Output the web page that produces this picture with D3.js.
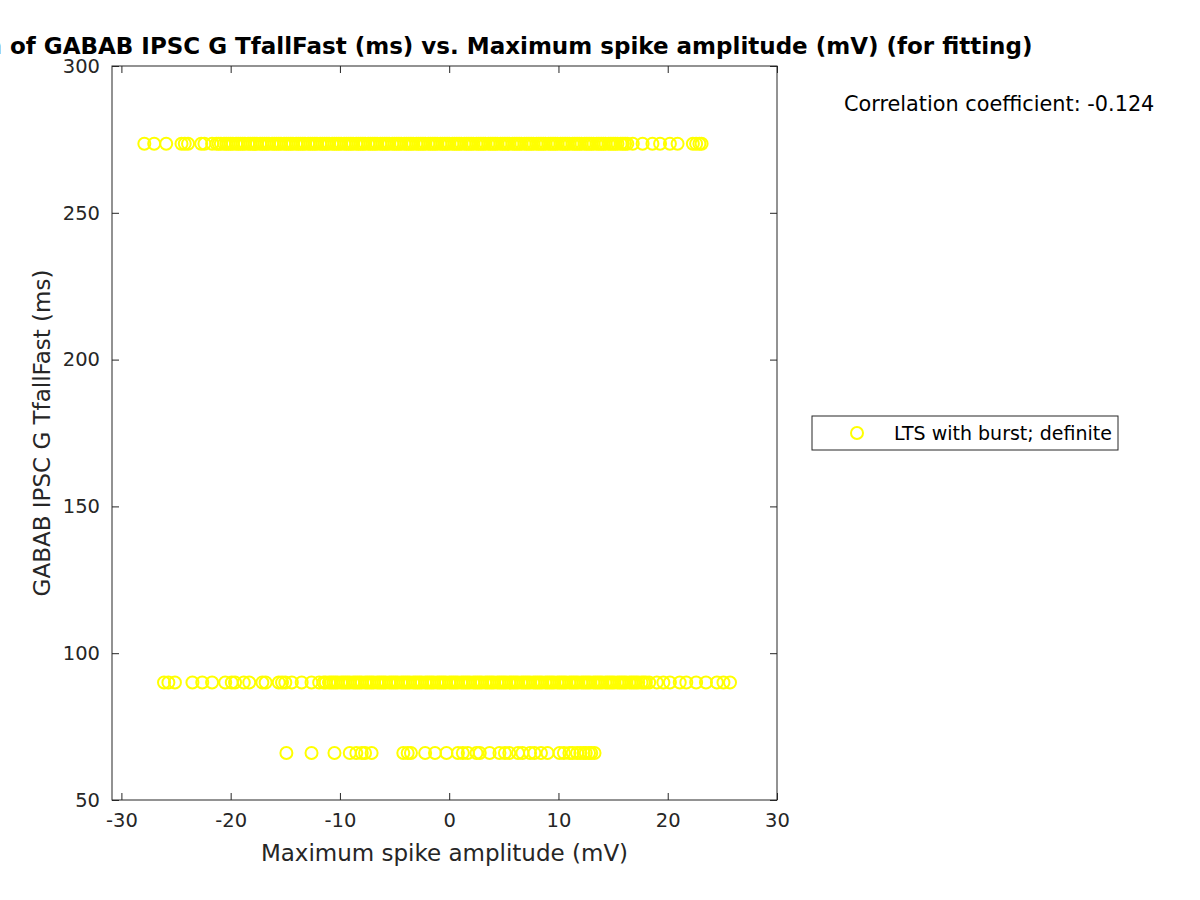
<!DOCTYPE html>
<html>
<head>
<meta charset="utf-8">
<script src="https://cdn.jsdelivr.net/npm/d3@7"></script>
<style>
  body { margin: 0; background: #fff; }
  svg { font-family: "DejaVu Sans", sans-serif; }
</style>
</head>
<body>
<div class="chart"></div>
<script>
// scatter: GABAB IPSC G TfallFast vs max spike amplitude

var svgWidth = 1200;
var svgHeight = 900;

var margin = { top: 66, right: 423, bottom: 100, left: 112 };
var width = svgWidth - margin.left - margin.right;
var height = svgHeight - margin.top - margin.bottom;

// tfallFast levels (ms)
var levelHigh = 273.5;
var levelMid = 90;
var levelLow = 66;

// max spike amplitude (mV) at each level
var ampsHigh = [-27.9, -27.0, -25.9, -24.5, -24.2, -23.9, -22.7, -22.4, -21.7,
  -21.3, -21.1, -20.9, -20.6, -20.4, -20.2, -20.0, -19.8, -19.5, -19.3, -19.1, -18.9,
  -18.7, -18.4, -18.2, -18.0, -17.8, -17.6, -17.3, -17.1, -16.9, -16.7, -16.5, -16.2,
  -16.0, -15.8, -15.6, -15.4, -15.1, -14.9, -14.7, -14.5, -14.3, -14.0, -13.8, -13.6,
  -13.4, -13.2, -12.9, -12.7, -12.5, -12.3, -12.1, -11.8, -11.6, -11.4, -11.2, -11.0,
  -10.7, -10.5, -10.3, -10.1, -9.9, -9.6, -9.4, -9.2, -9.0, -8.8, -8.5, -8.3, -8.1,
  -7.9, -7.7, -7.4, -7.2, -7.0, -6.8, -6.6, -6.3, -6.1, -5.9, -5.7, -5.5, -5.2, -5.0,
  -4.8, -4.6, -4.4, -4.1, -3.9, -3.7, -3.5, -3.3, -3.0, -2.8, -2.6, -2.4, -2.2, -1.9,
  -1.7, -1.5, -1.3, -1.1, -0.8, -0.6, -0.4, -0.2, 0.0, 0.3, 0.5, 0.7, 0.9, 1.1, 1.4,
  1.6, 1.8, 2.0, 2.2, 2.5, 2.7, 2.9, 3.1, 3.3, 3.6, 3.8, 4.0, 4.2, 4.4, 4.7, 4.9, 5.1,
  5.3, 5.5, 5.8, 6.0, 6.2, 6.4, 6.6, 6.9, 7.1, 7.3, 7.5, 7.7, 8.0, 8.2, 8.4, 8.6, 8.8,
  9.1, 9.3, 9.5, 9.7, 9.9, 10.2, 10.4, 10.6, 10.8, 11.0, 11.3, 11.5, 11.7, 11.9, 12.1,
  12.4, 12.6, 12.8, 13.0, 13.2, 13.5, 13.7, 13.9, 14.1, 14.3, 14.6, 14.8, 15.0, 15.2,
  15.4, 15.7, 15.9, 16.1, 16.3,
  16.8, 17.7, 18.6, 19.3, 20.2, 20.9, 22.3, 22.6, 22.9, 23.1];

var ampsMid = [-26.1, -25.7, -25.1, -23.5, -22.6, -21.7, -20.5, -19.9, -19.6, -18.8,
  -18.3, -17.1, -16.8, -15.6, -15.3, -15.0, -14.4, -13.5, -12.6, -11.9,
  -11.5, -11.3, -11.0, -10.8, -10.6, -10.4, -10.2, -9.9, -9.7, -9.5, -9.3, -9.1, -8.8,
  -8.6, -8.4, -8.2, -8.0, -7.7, -7.5, -7.3, -7.1, -6.9, -6.6, -6.4, -6.2, -6.0, -5.8,
  -5.5, -5.3, -5.1, -4.9, -4.7, -4.4, -4.2, -4.0, -3.8, -3.6, -3.3, -3.1, -2.9, -2.7,
  -2.5, -2.2, -2.0, -1.8, -1.6, -1.4, -1.1, -0.9, -0.7, -0.5, -0.3, 0.0, 0.2, 0.4, 0.6,
  0.8, 1.1, 1.3, 1.5, 1.7, 1.9, 2.2, 2.4, 2.6, 2.8, 3.0, 3.3, 3.5, 3.7, 3.9, 4.1, 4.4,
  4.6, 4.8, 5.0, 5.2, 5.5, 5.7, 5.9, 6.1, 6.3, 6.6, 6.8, 7.0, 7.2, 7.4, 7.7, 7.9, 8.1,
  8.3, 8.5, 8.8, 9.0, 9.2, 9.4, 9.6, 9.9, 10.1, 10.3, 10.5, 10.7, 11.0, 11.2, 11.4,
  11.6, 11.8, 12.1, 12.3, 12.5, 12.7, 12.9, 13.2, 13.4, 13.6, 13.8, 14.0, 14.3, 14.5,
  14.7, 14.9, 15.1, 15.4, 15.6, 15.8, 16.0, 16.2, 16.5, 16.7, 16.9, 17.1, 17.3, 17.6,
  17.8, 18.0,
  18.3, 19.0, 19.6, 20.2, 21.1, 21.7, 22.6, 23.5, 24.5, 25.1, 25.7];

var ampsLow = [-14.9, -12.6, -10.5, -9.1, -8.5, -8.0, -7.7, -7.1, -4.2, -3.8, -3.5,
  -2.2, -1.3, -0.25, 0.8, 1.25, 1.7, 2.5, 2.8, 3.7, 4.6, 5.1, 5.5, 6.3, 6.7, 7.4, 7.8,
  8.4, 9.0, 10.1, 10.5, 11.0, 11.3, 11.7, 12.0, 12.3, 12.5, 12.8, 13.0, 13.3];

var xTicks = [-30, -20, -10, 0, 10, 20, 30];
var yTicks = [50, 100, 150, 200, 250, 300];

var titleText = "Correlation of GABAB IPSC G TfallFast (ms) vs. Maximum spike amplitude (mV) (for fitting)";
var xLabelText = "Maximum spike amplitude (mV)";
var yLabelText = "GABAB IPSC G TfallFast (ms)";
var corrText = "Correlation coefficient: -0.124";
var legendText = "LTS with burst; definite";

var points = [];
ampsHigh.forEach(function(a) { points.push({ x: a, y: levelHigh }); });
ampsMid.forEach(function(a) { points.push({ x: a, y: levelMid }); });
ampsLow.forEach(function(a) { points.push({ x: a, y: levelLow }); });

var svg = d3.select(".chart")
  .append("svg")
  .attr("width", svgWidth)
  .attr("height", svgHeight);

var chartGroup = svg.append("g")
  .attr("transform", `translate(${margin.left}, ${margin.top})`);

var xScale = d3.scaleLinear().domain([-30.86, 30]).range([0, width]);
var yScale = d3.scaleLinear().domain([50, 300]).range([height, 0]);

var axisColor = "#262626";
var markerColor = "#ffff00";
var tickLen = 7;
var fmt = d => String(d);

// points
chartGroup.selectAll("circle.pt")
  .data(points)
  .enter()
  .append("circle")
  .attr("class", "pt")
  .attr("cx", d => xScale(d.x))
  .attr("cy", d => yScale(d.y))
  .attr("r", 6)
  .attr("fill", "none")
  .attr("stroke", markerColor)
  .attr("stroke-width", 2);

// plot box
chartGroup.append("rect")
  .attr("width", width)
  .attr("height", height)
  .attr("fill", "none")
  .attr("stroke", axisColor)
  .attr("stroke-width", 1);

// axes (inward ticks, mirrored)
function styleAxis(g) {
  g.select(".domain").remove();
  g.selectAll(".tick line").attr("stroke", axisColor);
  g.selectAll(".tick text")
    .attr("fill", axisColor)
    .style("font-size", "19.5px")
    .style("font-family", "DejaVu Sans, sans-serif");
}

var bottomAxis = chartGroup.append("g")
  .attr("transform", `translate(0, ${height})`)
  .call(d3.axisBottom(xScale).tickValues(xTicks).tickFormat(fmt)
    .tickSizeInner(-tickLen).tickSizeOuter(0).tickPadding(13));
styleAxis(bottomAxis);

var topAxis = chartGroup.append("g")
  .call(d3.axisTop(xScale).tickValues(xTicks).tickFormat("")
    .tickSizeInner(-tickLen).tickSizeOuter(0));
styleAxis(topAxis);

var leftAxis = chartGroup.append("g")
  .call(d3.axisLeft(yScale).tickValues(yTicks).tickFormat(fmt)
    .tickSizeInner(-tickLen).tickSizeOuter(0).tickPadding(12));
styleAxis(leftAxis);

var rightAxis = chartGroup.append("g")
  .attr("transform", `translate(${width}, 0)`)
  .call(d3.axisRight(yScale).tickValues(yTicks).tickFormat("")
    .tickSizeInner(-tickLen).tickSizeOuter(0));
styleAxis(rightAxis);

// axis labels
chartGroup.append("text")
  .attr("x", width / 2)
  .attr("y", height + 61)
  .attr("text-anchor", "middle")
  .attr("fill", axisColor)
  .style("font-size", "23px")
  .text(xLabelText);

chartGroup.append("text")
  .attr("transform", "rotate(-90)")
  .attr("x", -height / 2)
  .attr("y", -62)
  .attr("text-anchor", "middle")
  .attr("fill", axisColor)
  .style("font-size", "23px")
  .text(yLabelText);

// title (runs off the left edge, as in the original figure)
chartGroup.append("text")
  .attr("x", width / 2)
  .attr("y", -12)
  .attr("text-anchor", "middle")
  .attr("fill", "#000")
  .style("font-size", "23px")
  .style("font-weight", "bold")
  .text(titleText);

// correlation note
svg.append("text")
  .attr("x", 844)
  .attr("y", 111)
  .attr("fill", "#000")
  .style("font-size", "20.8px")
  .text(corrText);

// legend
var legend = svg.append("g").attr("transform", "translate(812, 416)");
legend.append("rect")
  .attr("width", 306)
  .attr("height", 34)
  .attr("fill", "#fff")
  .attr("stroke", axisColor)
  .attr("stroke-width", 1);
legend.append("circle")
  .attr("cx", 45)
  .attr("cy", 17)
  .attr("r", 6)
  .attr("fill", "none")
  .attr("stroke", markerColor)
  .attr("stroke-width", 2);
legend.append("text")
  .attr("x", 82)
  .attr("y", 24)
  .attr("fill", "#000")
  .style("font-size", "19px")
  .text(legendText);
</script>
</body>
</html>
